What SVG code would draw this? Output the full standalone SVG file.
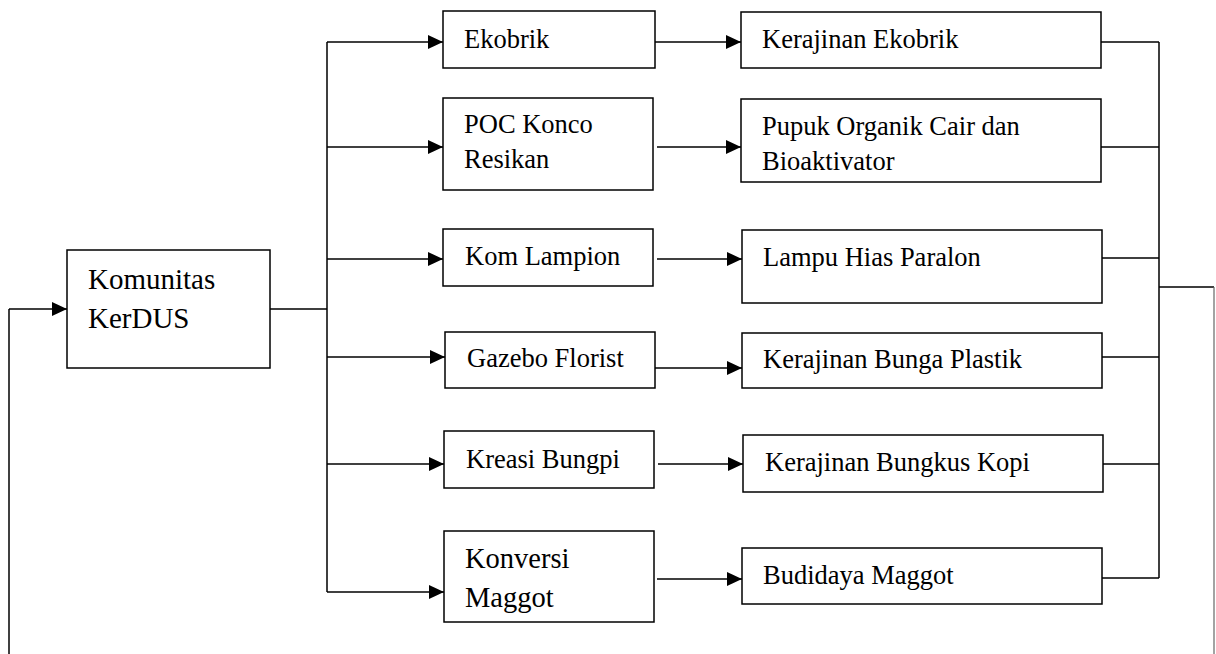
<svg xmlns="http://www.w3.org/2000/svg" width="1216" height="654" viewBox="0 0 1216 654">
<defs>
<marker id="ah" markerUnits="userSpaceOnUse" markerWidth="15" markerHeight="14" refX="15" refY="7" orient="auto">
<path d="M0,0 L15,7 L0,14 z" fill="#000"/>
</marker>
<style>
.box{fill:#fff;stroke:#000;stroke-width:1.5}
.t{font-family:'Liberation Serif','DejaVu Serif',serif;font-size:26.5px;fill:#000}
.big{font-size:29px}
.mid{font-size:28.5px}
.ln{fill:none;stroke:#000;stroke-width:1.5}
.arr{fill:none;stroke:#000;stroke-width:1.5;marker-end:url(#ah)}
</style>
</defs>
<rect width="1216" height="654" fill="#fff"/>
<g id="connectors">
<path class="ln" d="M269,309 H327 M327,42 V592"/>
<path class="arr" d="M327,42 H443"/>
<path class="arr" d="M327,147 H443"/>
<path class="arr" d="M327,259 H443"/>
<path class="arr" d="M327,357 H445"/>
<path class="arr" d="M327,464 H444"/>
<path class="arr" d="M327,592 H444"/>
<path class="arr" d="M655,42 H741"/>
<path class="arr" d="M657,147 H741"/>
<path class="arr" d="M657,259 H742"/>
<path class="arr" d="M655,368 H742"/>
<path class="arr" d="M658,464 H743"/>
<path class="arr" d="M657,579 H742"/>
<path class="ln" d="M1101,42 H1159 M1101,147 H1159 M1102,258 H1159 M1102,357 H1159 M1103,464 H1159 M1102,578 H1159 M1159,42 V578 M1159,287 H1214"/>
<path d="M1214,287 V654" fill="none" stroke="#666" stroke-width="1.2"/>
<path class="ln" d="M9,654 V309"/>
<path class="arr" d="M9,309 H67"/>
</g>
<g id="komunitas"><rect class="box" x="67" y="250" width="203" height="118"/><text class="t big" font-family="Liberation Serif, serif" x="88" y="289">Komunitas</text><text class="t big" font-family="Liberation Serif, serif" x="88" y="328">KerDUS</text></g>
<g id="ekobrik"><rect class="box" x="443" y="11" width="212" height="57"/><text class="t" x="464" y="48">Ekobrik</text></g>
<g id="poc"><rect class="box" x="443" y="98" width="210" height="92"/><text class="t" x="464" y="133">POC Konco</text><text class="t" x="464" y="168">Resikan</text></g>
<g id="komlampion"><rect class="box" x="443" y="229" width="210" height="57"/><text class="t" x="465" y="265">Kom Lampion</text></g>
<g id="gazebo"><rect class="box" x="445" y="332" width="210" height="56"/><text class="t" x="467" y="367">Gazebo Florist</text></g>
<g id="kreasi"><rect class="box" x="444" y="431" width="210" height="57"/><text class="t" x="466" y="468">Kreasi Bungpi</text></g>
<g id="konversi"><rect class="box" x="444" y="531" width="210" height="91"/><text class="t mid" x="465" y="568">Konversi</text><text class="t mid" x="465" y="607">Maggot</text></g>
<g id="kerajinan-ekobrik"><rect class="box" x="741" y="12" width="360" height="56"/><text class="t" x="762" y="48">Kerajinan Ekobrik</text></g>
<g id="pupuk"><rect class="box" x="741" y="99" width="360" height="83"/><text class="t" x="762" y="135">Pupuk Organik Cair dan</text><text class="t" x="762" y="170">Bioaktivator</text></g>
<g id="lampu"><rect class="box" x="742" y="230" width="360" height="73"/><text class="t" x="763" y="266">Lampu Hias Paralon</text></g>
<g id="bunga"><rect class="box" x="742" y="333" width="360" height="55"/><text class="t" x="763" y="368">Kerajinan Bunga Plastik</text></g>
<g id="bungkus"><rect class="box" x="743" y="435" width="360" height="57"/><text class="t" x="765" y="471">Kerajinan Bungkus Kopi</text></g>
<g id="budidaya"><rect class="box" x="742" y="548" width="360" height="56"/><text class="t" x="763" y="584">Budidaya Maggot</text></g>
</svg>
